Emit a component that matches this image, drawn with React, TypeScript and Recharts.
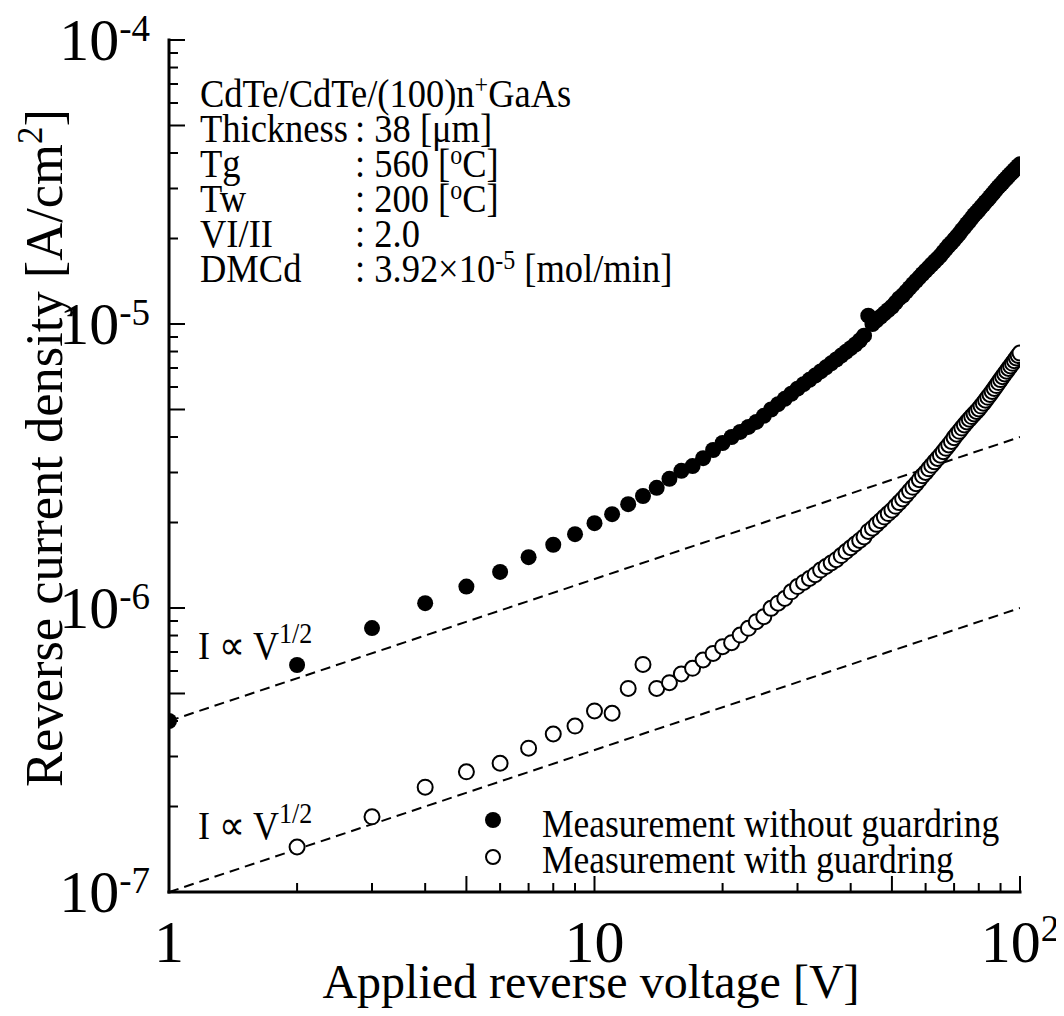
import { ScatterChart, Scatter, XAxis, YAxis, Customized } from 'recharts';

// applied reverse voltage [V], one reading per volt
const voltage = [
  1, 2, 3, 4, 5, 6, 7, 8, 9, 10, 11, 12, 13, 14, 15, 16, 17, 18, 19, 20,
  21, 22, 23, 24, 25, 26, 27, 28, 29, 30, 31, 32, 33, 34, 35, 36, 37, 38, 39, 40,
  41, 42, 43, 44, 45, 46, 47, 48, 49, 50, 51, 52, 53, 54, 55, 56, 57, 58, 59, 60,
  61, 62, 63, 64, 65, 66, 67, 68, 69, 70, 71, 72, 73, 74, 75, 76, 77, 78, 79, 80,
  81, 82, 83, 84, 85, 86, 87, 88, 89, 90, 91, 92, 93, 94, 95, 96, 97, 98, 99, 100,
];

// reverse current density, in uA/cm2
const withoutGuard = [
  0.40, 0.63, 0.85, 1.04, 1.19, 1.34, 1.51, 1.67, 1.82, 1.99,
  2.14, 2.32, 2.48, 2.65, 2.85, 3.04, 3.16, 3.37, 3.60, 3.81,
  4.00, 4.17, 4.34, 4.52, 4.75, 5.00, 5.22, 5.45, 5.68, 5.92,
  6.14, 6.36, 6.58, 6.81, 7.04, 7.27, 7.50, 7.74, 7.98, 8.22,
  8.47, 8.75, 9.10, 10.7, 10.0, 10.3, 10.6, 10.9, 11.2, 11.5,
  11.9, 12.3, 12.6, 13.0, 13.4, 13.8, 14.2, 14.6, 15.0, 15.4,
  15.8, 16.2, 16.6, 17.0, 17.4, 17.9, 18.4, 18.9, 19.3, 19.8,
  20.3, 20.8, 21.4, 21.9, 22.5, 23.0, 23.6, 24.2, 24.7, 25.2,
  25.8, 26.3, 26.9, 27.4, 28.0, 28.6, 29.2, 29.8, 30.4, 30.9,
  31.5, 32.1, 32.6, 33.2, 33.8, 34.3, 34.9, 35.4, 36.0, 36.5,
];

// with guard ring: nothing above 1e-7 at 1 V
const withGuard = [
  null, 0.144, 0.184, 0.234, 0.265, 0.284, 0.321, 0.360, 0.384, 0.434,
  0.426, 0.521, 0.633, 0.521, 0.546, 0.586, 0.613, 0.656, 0.692, 0.731,
  0.755, 0.803, 0.848, 0.895, 0.932, 0.997, 1.04, 1.08, 1.14, 1.19,
  1.23, 1.27, 1.31, 1.36, 1.40, 1.44, 1.48, 1.53, 1.58, 1.63,
  1.68, 1.73, 1.78, 1.86, 1.91, 1.97, 2.03, 2.09, 2.15, 2.21,
  2.28, 2.35, 2.42, 2.50, 2.58, 2.66, 2.74, 2.83, 2.92, 3.00,
  3.09, 3.18, 3.27, 3.36, 3.45, 3.55, 3.65, 3.75, 3.86, 3.98,
  4.09, 4.19, 4.30, 4.41, 4.52, 4.62, 4.72, 4.82, 4.92, 5.02,
  5.14, 5.26, 5.39, 5.52, 5.65, 5.79, 5.93, 6.07, 6.22, 6.37,
  6.52, 6.67, 6.82, 6.97, 7.12, 7.27, 7.43, 7.59, 7.75, 7.90,
];

// I ∝ V^1/2 guide lines (uA/cm2 at 1 V and 100 V)
const lawVoltage = [1, 100];
const lawUpper = [0.4, 4.0];
const lawLower = [0.1, 1.0];

const xTicks = [1, 2, 3, 4, 5, 6, 7, 8, 9, 10, 20, 30, 40, 50, 60, 70, 80, 90, 100];
const yTicks = [
  1e-7, 2e-7, 3e-7, 4e-7, 5e-7, 6e-7, 7e-7, 8e-7, 9e-7,
  1e-6, 2e-6, 3e-6, 4e-6, 5e-6, 6e-6, 7e-6, 8e-6, 9e-6,
  1e-5, 2e-5, 3e-5, 4e-5, 5e-5, 6e-5, 7e-5, 8e-5, 9e-5,
  1e-4,
];

const toRows = (vs: number[], is: (number | null)[]) =>
  vs
    .map((v, k) => ({ v, i: is[k] == null ? null : (is[k] as number) * 1e-6 }))
    .filter((r) => r.i != null);

const rowsWithout = toRows(voltage, withoutGuard);
const rowsWith = toRows(voltage, withGuard);
const rowsUpper = toRows(lawVoltage, lawUpper);
const rowsLower = toRows(lawVoltage, lawLower);

const FONT = "'Liberation Serif','Times New Roman',Times,serif";
const NOTE_TALL = 1.1; // note lettering is a touch taller than wide

const tickKind = (v: number) => {
  const e = Math.floor(Math.log10(v) + 1e-9);
  const m = Math.round(v / Math.pow(10, e));
  return { e, m };
};

const TickMark = (props: any) => {
  const { x, y, payload, side } = props;
  const { e, m } = tickKind(payload.value);
  const len = m === 1 || m === 5 ? 16 : 9;
  let x2 = x;
  let y2 = y;
  if (side === 'bottom') y2 = y - len;
  if (side === 'top') y2 = y + len;
  if (side === 'left') x2 = x + len;
  if (side === 'right') x2 = x - len;
  let label = null;
  if (m === 1 && side === 'left') {
    label = (
      <text x={x - 19} y={y + 20} textAnchor="end" fontFamily={FONT} fontSize={60} fill="#000">
        10<tspan dy={-19} fontSize={37}>{'-' + Math.abs(e)}</tspan>
      </text>
    );
  }
  if (m === 1 && side === 'bottom') {
    label = (
      <text x={x} y={y + 70} textAnchor="middle" fontFamily={FONT} fontSize={60} fill="#000">
        {e === 0 ? '1' : '10'}
        {e > 1 ? <tspan dy={-21} fontSize={37}>{String(e)}</tspan> : null}
      </text>
    );
  }
  return (
    <g>
      <line x1={x} y1={y} x2={x2} y2={y2} stroke="#000" strokeWidth={2} />
      {label}
    </g>
  );
};

const FilledDot = (props: any) => <circle cx={props.cx} cy={props.cy} r={8} fill="#000" />;
const OpenDot = (props: any) => (
  <circle cx={props.cx} cy={props.cy} r={7.5} fill="#fff" stroke="#000" strokeWidth={2} />
);
const NoDot = () => <g />;

const Sup = ({ children, size, lift }: any) => (
  <tspan dy={-lift} fontSize={size}>
    {children}
  </tspan>
);

const Note = ({ x, y, size, children }: any) => (
  <g transform={`translate(${x},${y}) scale(1,${NOTE_TALL})`}>
    <text x={0} y={0} fontSize={size}>
      {children}
    </text>
  </g>
);

const Annotations = () => {
  const col1 = 192;
  const col2 = 347;
  const rows = [99, 134, 169, 204, 239, 274];
  const fs = 36.5;
  return (
    <g fontFamily={FONT} fill="#000">
      <Note x={col1} y={rows[0]} size={fs}>
        CdTe/CdTe/(100)n<Sup size={24} lift={12}>+</Sup>
        <tspan dy={12}>GaAs</tspan>
      </Note>
      <Note x={col1} y={rows[1]} size={fs}>Thickness</Note>
      <Note x={col2} y={rows[1]} size={fs}>: 38 [μm]</Note>
      <Note x={col1} y={rows[2]} size={fs}>Tg</Note>
      <Note x={col2} y={rows[2]} size={fs}>
        : 560 [<Sup size={24} lift={12}>o</Sup>
        <tspan dy={12}>C]</tspan>
      </Note>
      <Note x={col1} y={rows[3]} size={fs}>Tw</Note>
      <Note x={col2} y={rows[3]} size={fs}>
        : 200 [<Sup size={24} lift={12}>o</Sup>
        <tspan dy={12}>C]</tspan>
      </Note>
      <Note x={col1} y={rows[4]} size={fs}>VI/II</Note>
      <Note x={col2} y={rows[4]} size={fs}>: 2.0</Note>
      <Note x={col1} y={rows[5]} size={fs}>DMCd</Note>
      <Note x={col2} y={rows[5]} size={fs}>
        : 3.92×10<Sup size={24} lift={12}>-5</Sup>
        <tspan dy={12}> [mol/min]</tspan>
      </Note>

      <Note x={190} y={651} size={36}>
        I ∝ V<Sup size={26} lift={15}>1/2</Sup>
      </Note>
      <Note x={190} y={831} size={36}>
        I ∝ V<Sup size={26} lift={15}>1/2</Sup>
      </Note>

      <circle cx={485} cy={812} r={8} fill="#000" />
      <circle cx={485} cy={849} r={7} fill="#fff" stroke="#000" strokeWidth={2} />
      <Note x={534} y={829} size={35.5}>Measurement without guardring</Note>
      <Note x={534} y={865} size={35.5}>Measurement with guardring</Note>

      <text x={583} y={990} textAnchor="middle" fontSize={48}>
        Applied reverse voltage [V]
      </text>
      <g transform="translate(54,440) rotate(-90)">
        <text x={0} y={0} textAnchor="middle" fontSize={52.5}>
          Reverse current density [A/cm<Sup size={35} lift={20}>2</Sup>
          <tspan dy={20}>]</tspan>
        </text>
      </g>
    </g>
  );
};

const axisLine = { stroke: '#000', strokeWidth: 3, strokeLinecap: 'square' as const };

export default function App() {
  return (
    <ScatterChart width={1056} height={1000} margin={{ top: 32, right: 44, bottom: 0, left: 0 }}>
      <XAxis
        xAxisId="b"
        orientation="bottom"
        dataKey="v"
        type="number"
        scale="log"
        domain={[1, 100]}
        allowDataOverflow
        ticks={xTicks}
        interval={0}
        height={116}
        tickSize={0}
        tickMargin={0}
        tickLine={false}
        axisLine={axisLine}
        tick={<TickMark side="bottom" />}
      />
      <XAxis
        xAxisId="t"
        orientation="top"
        dataKey="v"
        type="number"
        scale="log"
        domain={[1, 100]}
        allowDataOverflow
        ticks={xTicks}
        interval={0}
        height={0}
        tickSize={0}
        tickMargin={0}
        tickLine={false}
        axisLine={axisLine}
        tick={<TickMark side="top" />}
      />
      <YAxis
        yAxisId="l"
        orientation="left"
        dataKey="i"
        type="number"
        scale="log"
        domain={[1e-7, 1e-4]}
        allowDataOverflow
        ticks={yTicks}
        interval={0}
        width={161}
        tickSize={0}
        tickMargin={0}
        tickLine={false}
        axisLine={axisLine}
        tick={<TickMark side="left" />}
      />
      <YAxis
        yAxisId="r"
        orientation="right"
        dataKey="i"
        type="number"
        scale="log"
        domain={[1e-7, 1e-4]}
        allowDataOverflow
        ticks={yTicks}
        interval={0}
        width={0}
        tickSize={0}
        tickMargin={0}
        tickLine={false}
        axisLine={axisLine}
        tick={<TickMark side="right" />}
      />
      <Scatter
        data={rowsUpper}
        xAxisId="b"
        yAxisId="l"
        line={{ stroke: '#000', strokeWidth: 2, strokeDasharray: '10 6' }}
        shape={NoDot}
        isAnimationActive={false}
      />
      <Scatter
        data={rowsLower}
        xAxisId="b"
        yAxisId="l"
        line={{ stroke: '#000', strokeWidth: 2, strokeDasharray: '10 6' }}
        shape={NoDot}
        isAnimationActive={false}
      />
      <Scatter data={rowsWith} xAxisId="b" yAxisId="l" shape={OpenDot} isAnimationActive={false} />
      <Scatter data={rowsWithout} xAxisId="b" yAxisId="l" shape={FilledDot} isAnimationActive={false} />
      <Customized component={<Annotations />} />
    </ScatterChart>
  );
}
